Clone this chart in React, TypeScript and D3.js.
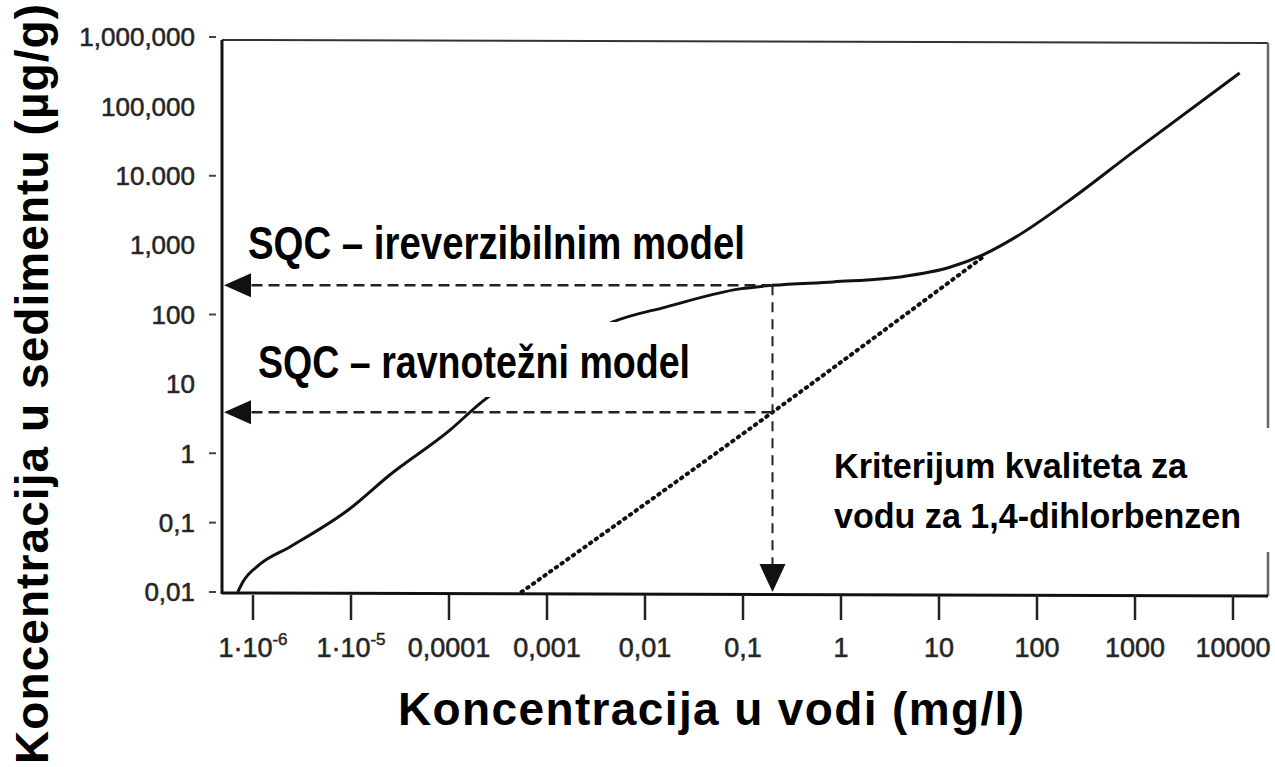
import * as d3 from "d3";

// x: concentration in water (mg/l), y: concentration in sediment (µg/g)
const xTicks = [1e-6, 1e-5, 1e-4, 1e-3, 0.01, 0.1, 1, 10, 100, 1000, 10000];
const xTickLabels = ["1·10|-6", "1·10|-5", "0,0001", "0,001", "0,01", "0,1", "1", "10", "100", "1000", "10000"];
const yTicks = [1e6, 1e5, 1e4, 1e3, 100, 10, 1, 0.1, 0.01];
const yTickLabels = ["1,000,000", "100,000", "10.000", "1,000", "100", "10", "1", "0,1", "0,01"];
const yTickMarks = [1e6, 1e4, 100, 1, 0.1, 0.01];

// irreversible sorption model (solid line)
const irrevX = [7.0e-7, 7.9e-7, 1.17e-6, 2.4e-6, 9.8e-6, 2.5e-5, 1.0e-4, 2.2e-4, 0.001, 0.0047, 0.0166, 0.093, 0.2, 0.83, 4.0, 12.9, 28, 63, 204, 955, 11700];
const irrevY = [0.01, 0.014, 0.025, 0.045, 0.16, 0.49, 2.1, 5.6, 22, 78, 129, 234, 263, 295, 347, 479, 724, 1350, 4200, 21900, 302000];

// equilibrium partitioning model (dotted line)
const equilX = [0.00055, 0.2, 30];
const equilY = [0.01, 3.9, 720];

// water quality criterion and the two SQC read-offs
const criterion = 0.2;
const sqcIrrev = 263;
const sqcEquil = 3.9;

const W = 1275;
const H = 767;

export default function App() {
  const x = d3.scaleLog().domain([1e-6, 1e4]).range([253, 1233]);
  const y = d3.scaleLog().domain([0.01, 1e6]).range([592, 37]);

  const frame = { left: 222, right: 1268, top: 40, bottom: 593 };

  const line = d3
    .line<[number, number]>()
    .x((d) => x(d[0]))
    .y((d) => y(d[1]))
    .curve(d3.curveMonotoneX);

  const irrev = irrevX.map((v, i) => [v, irrevY[i]] as [number, number]);
  const equil = equilX.map((v, i) => [v, equilY[i]] as [number, number]);

  const cx = x(criterion);
  const yIrr = y(sqcIrrev);
  const yEq = y(sqcEquil);
  const tipX = frame.left + 2;

  const leftHead = (yy: number) =>
    `${tipX},${yy} ${tipX + 27},${yy - 12} ${tipX + 27},${yy + 12}`;
  const downHead = `${cx},${frame.bottom - 1} ${cx - 13},${frame.bottom - 29} ${cx + 13},${frame.bottom - 29}`;

  const font = "'Liberation Sans', Arial, sans-serif";

  return (
    <svg
      width={W}
      height={H}
      style={{ position: "absolute", left: 0, top: 0, background: "#fff" }}
      fontFamily={font}
    >
      <rect width={W} height={H} fill="#fff" />

      {/* curves */}
      <path d={line(irrev) ?? ""} fill="none" stroke="#111" strokeWidth={3} />
      <path
        d={line(equil) ?? ""}
        fill="none"
        stroke="#111"
        strokeWidth={4}
        strokeDasharray="1.5 5.5"
        strokeLinecap="round"
      />

      {/* read-off arrows */}
      <line x1={cx} x2={tipX + 20} y1={yIrr} y2={yIrr} stroke="#222" strokeWidth={2.5} strokeDasharray="11 6" />
      <line x1={cx} x2={tipX + 20} y1={yEq} y2={yEq} stroke="#222" strokeWidth={2.5} strokeDasharray="11 6" />
      <line x1={cx} x2={cx} y1={yIrr} y2={frame.bottom - 25} stroke="#222" strokeWidth={2} strokeDasharray="10 7" />
      <polygon points={leftHead(yIrr)} fill="#111" />
      <polygon points={leftHead(yEq)} fill="#111" />
      <polygon points={downHead} fill="#111" />

      {/* white label boxes */}
      <rect x={240} y={322} width={522} height={75} fill="#fff" />
      <rect x={810} y={428} width={465} height={124} fill="#fff" />

      {/* frame */}
      <line x1={frame.left} x2={frame.right} y1={frame.top} y2={frame.top + 3} stroke="#333" strokeWidth={2} />
      <line x1={frame.right} x2={frame.right} y1={frame.top + 3} y2={428} stroke="#666" strokeWidth={2.5} />
      <line x1={frame.right} x2={frame.right} y1={552} y2={frame.bottom + 3} stroke="#666" strokeWidth={2.5} />
      <line x1={frame.left} x2={frame.left} y1={frame.top} y2={frame.bottom + 1} stroke="#111" strokeWidth={3} />
      <line x1={frame.left} x2={frame.right} y1={frame.bottom} y2={frame.bottom + 3} stroke="#111" strokeWidth={3} />

      {/* y axis */}
      {yTickMarks.map((t) => (
        <line key={"ym" + t} x1={209} x2={216} y1={y(t)} y2={y(t)} stroke="#444" strokeWidth={2} />
      ))}
      {yTicks.map((t, i) => (
        <text
          key={"yl" + t}
          x={195}
          y={y(t)}
          dy="0.36em"
          textAnchor="end"
          fontSize={26}
          fill="#222"
          stroke="#333"
          strokeWidth={0.6}
        >
          {yTickLabels[i]}
        </text>
      ))}

      {/* x axis */}
      {xTicks.map((t) => (
        <line key={"xm" + t} x1={x(t)} x2={x(t)} y1={frame.bottom + 2} y2={620} stroke="#222" strokeWidth={2.5} />
      ))}
      {xTicks.map((t, i) => {
        const [base, sup] = xTickLabels[i].split("|");
        return (
          <text
            key={"xl" + t}
            x={x(t)}
            y={657}
            textAnchor="middle"
            fontSize={27}
            fill="#222"
            stroke="#333"
            strokeWidth={0.6}
          >
            {base}
            {sup && (
              <tspan fontSize={17} dy={-12}>
                {sup}
              </tspan>
            )}
          </text>
        );
      })}

      {/* annotations */}
      <g fontWeight="bold" fill="#000">
        <text x={248} y={259} fontSize={46} textLength={497} lengthAdjust="spacingAndGlyphs">
          SQC – ireverzibilnim model
        </text>
        <text x={258} y={378} fontSize={46} textLength={432} lengthAdjust="spacingAndGlyphs">
          SQC – ravnotežni model
        </text>
        <text x={834} y={478} fontSize={35} textLength={353} lengthAdjust="spacingAndGlyphs">
          Kriterijum kvaliteta za
        </text>
        <text x={834} y={528} fontSize={35} textLength={407} lengthAdjust="spacingAndGlyphs">
          vodu za 1,4-dihlorbenzen
        </text>
      </g>

      {/* axis titles */}
      <text
        x={711}
        y={725}
        textAnchor="middle"
        fontSize={46}
        fontWeight="bold"
        textLength={626}
        lengthAdjust="spacing"
      >
        Koncentracija u vodi (mg/l)
      </text>
      <text
        transform="translate(48,384) rotate(-90)"
        textAnchor="middle"
        fontSize={46}
        fontWeight="bold"
        textLength={760}
        lengthAdjust="spacing"
      >
        Koncentracija u sedimentu (µg/g)
      </text>
    </svg>
  );
}
